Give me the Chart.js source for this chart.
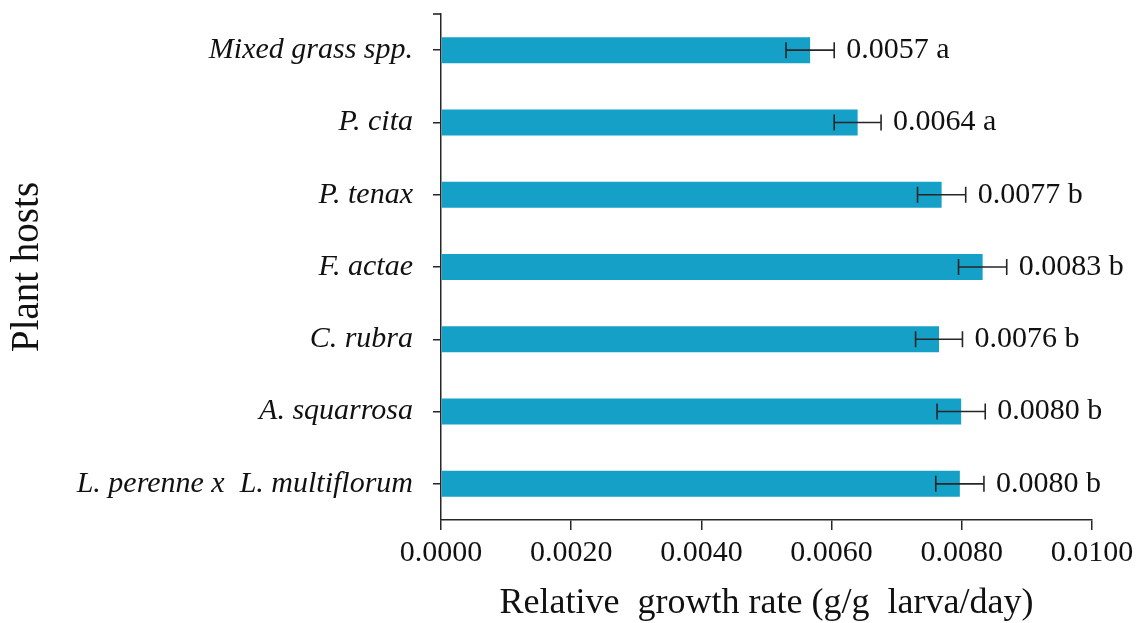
<!DOCTYPE html>
<html>
<head>
<meta charset="utf-8">
<script src="https://cdn.jsdelivr.net/npm/chart.js@4/dist/chart.umd.min.js"></script>
<style>
    html, body { margin: 0; padding: 0; background: #fff; }
    #wrap { width: 1141px; height: 623px; }
</style>
</head>
<body>
<div id="wrap"><canvas id="rgrChart"></canvas></div>
<script>
const hosts = ['Mixed grass spp.', 'P. cita', 'P. tenax', 'F. actae', 'C. rubra', 'A. squarrosa', 'L. perenne x  L. multiflorum'];
const growthRate = [0.00567, 0.00640, 0.00769, 0.00832, 0.00765, 0.00799, 0.00797];
const stdError = [0.00037, 0.00036, 0.00037, 0.00037, 0.00036, 0.00037, 0.00037];
const meanLabels = ['0.0057', '0.0064', '0.0077', '0.0083', '0.0076', '0.0080', '0.0080'];
const groupLetters = ['a', 'a', 'b', 'b', 'b', 'b', 'b'];
const xTicks = [0, 0.002, 0.004, 0.006, 0.008, 0.010];

const axisColor = '#262626';
const serif = '"Liberation Serif", "Times New Roman", serif';

// error bars + "mean letter" labels, drawn from the scales
const errorBars = {
    id: 'errorBars',
    afterDatasetsDraw(chart) {
        const ctx = chart.ctx;
        const x = chart.scales.x;
        const meta = chart.getDatasetMeta(0);
        ctx.save();
        ctx.strokeStyle = axisColor;
        ctx.lineWidth = 1.6;
        meta.data.forEach((bar, i) => {
            const y = bar.y;
            const lo = x.getPixelForValue(growthRate[i] - stdError[i]);
            const hi = x.getPixelForValue(growthRate[i] + stdError[i]);
            ctx.beginPath();
            ctx.moveTo(lo, y); ctx.lineTo(hi, y);
            ctx.moveTo(lo, y - 8); ctx.lineTo(lo, y + 8);
            ctx.moveTo(hi, y - 8); ctx.lineTo(hi, y + 8);
            ctx.stroke();

            ctx.fillStyle = '#111';
            ctx.font = '30px ' + serif;
            ctx.textAlign = 'left';
            ctx.textBaseline = 'middle';
            ctx.fillText(meanLabels[i] + ' ' + groupLetters[i], hi + 12, y);
        });
        // end tick on top of the y axis
        const area = chart.chartArea;
        ctx.beginPath();
        ctx.moveTo(area.left - 8, area.top);
        ctx.lineTo(area.left, area.top);
        ctx.stroke();
        ctx.restore();
    }
};

new Chart(document.getElementById('rgrChart'), {
    type: 'bar',
    data: {
        labels: hosts,
        datasets: [{
            data: growthRate,
            backgroundColor: '#15a0c8',
            borderWidth: 0,
            barPercentage: 0.36,
            categoryPercentage: 1.0
        }]
    },
    options: {
        indexAxis: 'y',
        responsive: true,
        maintainAspectRatio: false,
        animation: false,
        layout: {
            padding: { top: 14, right: 49, left: 0, bottom: 0 }
        },
        plugins: {
            legend: { display: false },
            tooltip: { enabled: false }
        },
        scales: {
            x: {
                min: 0,
                max: 0.01,
                afterFit: (scale) => { scale.height = 103; },
                afterBuildTicks: (scale) => {
                    scale.ticks = xTicks.map(v => ({ value: v }));
                },
                grid: {
                    drawOnChartArea: false,
                    color: axisColor,
                    lineWidth: 1.5,
                    tickLength: 10
                },
                border: { color: axisColor, width: 1.5 },
                ticks: {
                    color: '#111',
                    padding: 5,
                    font: { family: serif, size: 30 },
                    callback: (v) => Number(v).toFixed(4)
                },
                title: {
                    display: true,
                    text: 'Relative  growth rate (g/g  larva/day)',
                    color: '#111',
                    font: { family: serif, size: 36, lineHeight: 1 },
                    padding: { top: 0, bottom: 1 }
                }
            },
            y: {
                afterFit: (scale) => {
                    scale.width = 441;
                    scale.paddingTop = 0;
                    scale.paddingBottom = 0;
                },
                grid: {
                    drawOnChartArea: false,
                    offset: false,
                    color: axisColor,
                    lineWidth: 1.5,
                    tickLength: 8
                },
                border: { color: axisColor, width: 1.5 },
                ticks: {
                    color: '#111',
                    padding: 20,
                    font: { family: serif, size: 30, style: 'italic' }
                },
                title: {
                    display: true,
                    text: 'Plant hosts',
                    color: '#111',
                    font: { family: serif, size: 39, lineHeight: 1.2 },
                    padding: { top: 4, bottom: 0 }
                }
            }
        }
    },
    plugins: [errorBars]
});
</script>
</body>
</html>
